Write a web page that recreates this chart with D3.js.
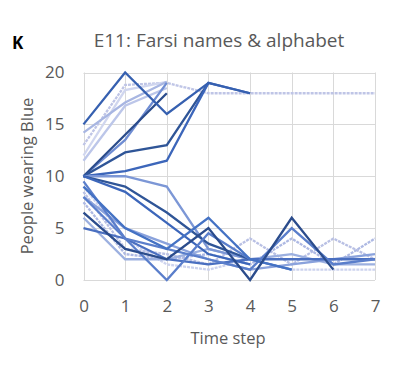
<!DOCTYPE html>
<html>
<head>
<meta charset="utf-8">
<script src="https://cdn.jsdelivr.net/npm/d3@7"></script>
<style>
  html, body { margin: 0; padding: 0; background: #fff; }
  svg { display: block; }
</style>
</head>
<body>
<svg id="chart" width="407" height="369"></svg>
<script>
// ---- data ----
const timeSteps = [0, 1, 2, 3, 4, 5, 6, 7];
const yTicks = [0, 5, 10, 15, 20];
const panelLetter = "K";
const chartTitle = "E11: Farsi names & alphabet";
const xLabel = "Time step";
const yLabel = "People wearing Blue";

// each run: number of people wearing blue per time step (null = run ended)
const runs = [
  [13, 18.8, 19, 18, 18, 18, 18, 18],
  [12, 18.3, 19.1, null, null, null, null, null],
  [11.5, 16.8, 18.5, null, null, null, null, null],
  [14.2, 17.1, 19.1, null, null, null, null, null],
  [10, 13.5, 19, null, null, null, null, null],
  [10, 14, 18, null, null, null, null, null],
  [10, 12.3, 13, 19, null, null, null, null],
  [10, 10.5, 11.5, 19, 18, null, null, null],
  [15, 20, 16, 19, 18, null, null, null],
  [9, 4, 1.5, 1, 2, 1, 1, 1],
  [8.5, 3, 2.5, 1.5, 4, 1.5, 4, 2],
  [7.5, 2.5, 2, 2.5, 1.5, 4, 1.5, 4],
  [6, 2, 2, 3, 2, 2.5, 1.5, 1.5],
  [8, 5, 3.5, 2, 1, 1.5, 2, 2.5],
  [10, 10, 9, 3, 2, null, null, null],
  [5, 4, 2, 1.5, 2, 2, 2, 2],
  [10, 9, 6.5, 3.5, 2, null, null, null],
  [10, 8.5, 5.5, 2.5, 1.5, null, null, null],
  [9.5, 4, 3, 2, 1, 5, 1.5, 2],
  [8, 4, 0, 4.5, 2, 1, null, null],
  [9, 5, 3, 6, 2, 1, null, null],
  [6.5, 3, 2, 5, 0, 6, 1, null]
];
const runColors = [
  "#BFC5E6", "#D0D6EF", "#BCC6E9", "#A8B6E2", "#6F8DD3", "#2B4C8C",
  "#2F5597", "#3C66BA", "#3660B0",
  "#CDD3EE", "#B9C0E4", "#AEB9E3", "#9CB0E0", "#8AA2DC",
  "#7C97D6", "#4A6FC0", "#2F5597", "#3C66BA", "#5A7ECB",
  "#5A7ECB", "#4472C4", "#2B4C8C"
];
const runDashed = [true, false, false, false, false, false, false, false, false,
  true, true, true, false, false, false, false, false, false, false, false, false, false];

// ---- drawing ----
const svg = d3.select("#chart");
const x = d3.scaleLinear().domain([0, 7]).range([83.5, 375]);
const y = d3.scaleLinear().domain([0, 20]).range([280, 72.5]);
const grey = "#595959";
const font = "'Open Sans', sans-serif";

// gridlines
const grid = svg.append("g");
grid.selectAll("line.h").data(yTicks).join("line")
  .attr("x1", x(0)).attr("x2", x(7))
  .attr("y1", d => Math.round(y(d)) + 0.5).attr("y2", d => Math.round(y(d)) + 0.5)
  .attr("stroke", "#D9D9D9").attr("stroke-width", 1);
grid.selectAll("line.v").data(timeSteps).join("line")
  .attr("y1", y(0)).attr("y2", y(20))
  .attr("x1", d => Math.round(x(d)) + 0.5).attr("x2", d => Math.round(x(d)) + 0.5)
  .attr("stroke", "#D9D9D9").attr("stroke-width", 1);

// axes (tick labels only)
const xAxis = d3.axisBottom(x).tickValues(timeSteps).tickFormat(d3.format("d"))
  .tickSize(0).tickPadding(20);
const yAxis = d3.axisLeft(y).tickValues(yTicks).tickFormat(d3.format("d"))
  .tickSize(0).tickPadding(19);
const gx = svg.append("g").attr("transform", `translate(0,${y(0)})`).call(xAxis);
const gy = svg.append("g").attr("transform", `translate(${x(0)},0)`).call(yAxis);
[gx, gy].forEach(g => {
  g.select(".domain").remove();
  g.selectAll("text").attr("fill", grey).style("font-family", font).style("font-size", "17px");
});

// lines
const line = d3.line()
  .defined(d => d.v != null)
  .x(d => x(d.t)).y(d => y(d.v));
svg.append("g").selectAll("path").data(runs).join("path")
  .attr("d", r => line(r.map((v, i) => ({ t: timeSteps[i], v }))))
  .attr("fill", "none")
  .attr("stroke", (r, i) => runColors[i])
  .attr("stroke-width", 2.3)
  .attr("stroke-linejoin", "miter")
  .attr("stroke-dasharray", (r, i) => runDashed[i] ? "3,1" : null);

// texts
svg.append("text").text(panelLetter)
  .attr("x", 12).attr("y", 49)
  .attr("fill", "#000").style("font-family", font)
  .style("font-size", "17px").style("font-weight", "bold");
svg.append("text").text(chartTitle)
  .attr("x", 219).attr("y", 47).attr("text-anchor", "middle")
  .attr("fill", grey).style("font-family", font).style("font-size", "19px");
svg.append("text").text(xLabel)
  .attr("x", 228).attr("y", 344).attr("text-anchor", "middle")
  .attr("fill", grey).style("font-family", font).style("font-size", "16.5px");
svg.append("text").text(yLabel)
  .attr("transform", "translate(33,176) rotate(-90)").attr("text-anchor", "middle")
  .attr("fill", grey).style("font-family", font).style("font-size", "16.5px");
</script>
</body>
</html>
